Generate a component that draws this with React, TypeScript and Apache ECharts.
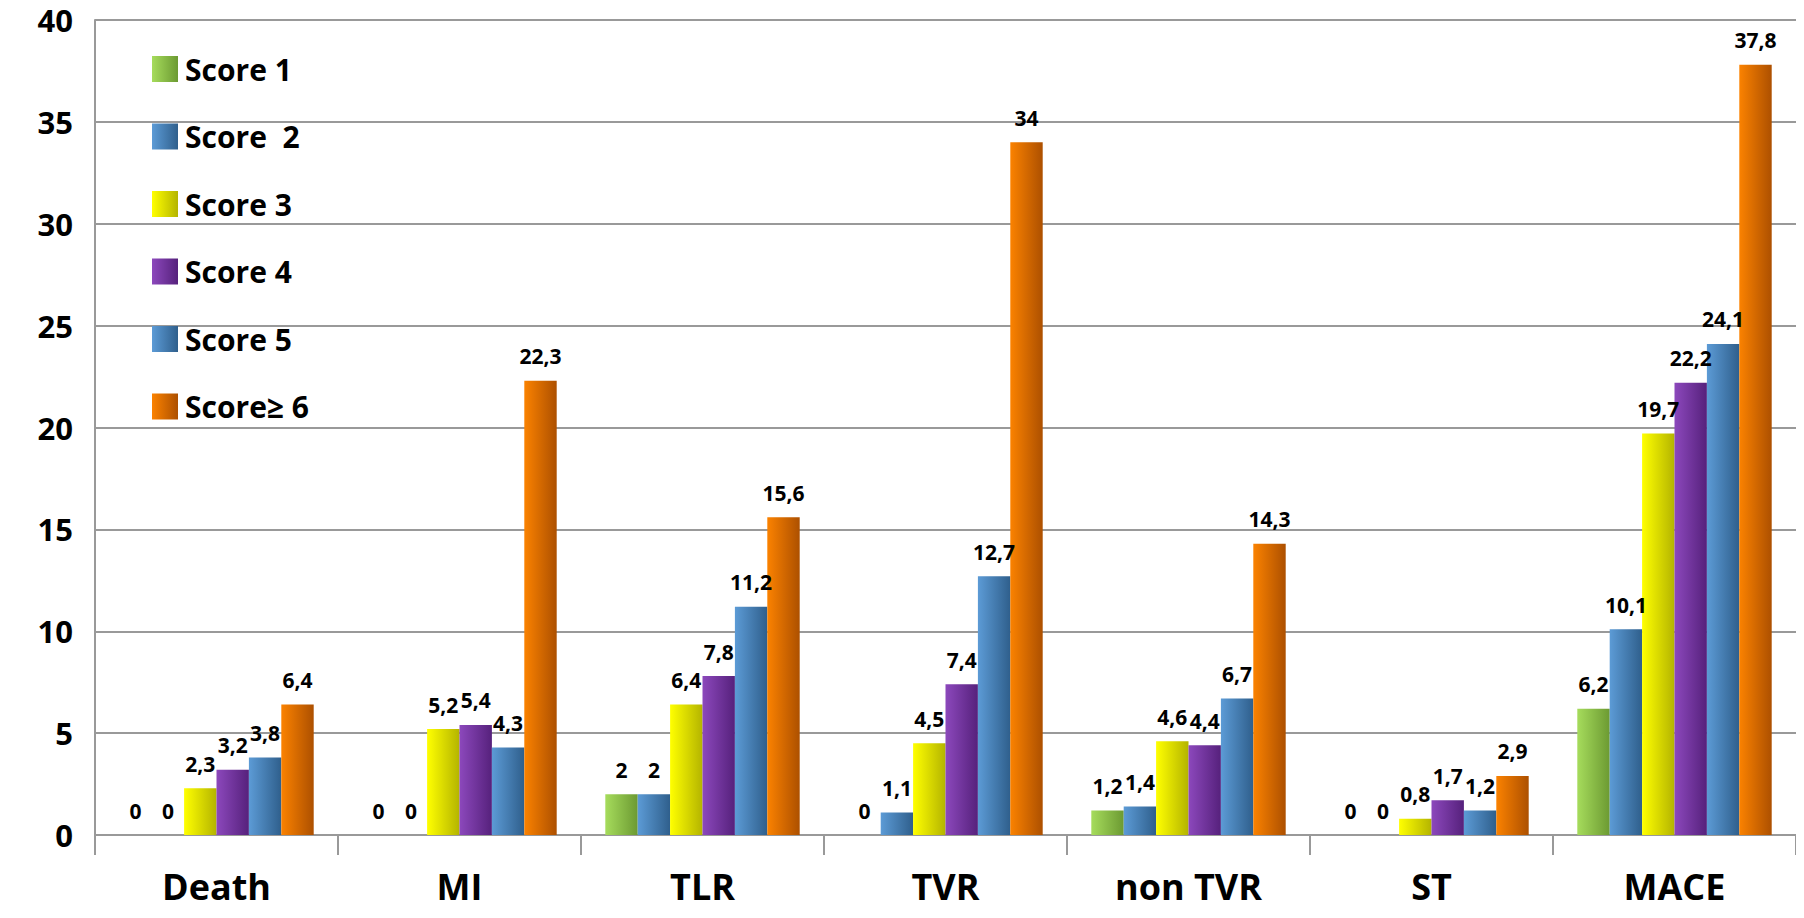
import React, { useEffect, useRef } from "react";
import * as echarts from "echarts";

const categories = ["Death", "MI", "TLR", "TVR", "non TVR", "ST", "MACE"];
const seriesNames = ["Score 1", "Score  2", "Score 3", "Score 4", "Score 5", "Score≥ 6"];
const score1 = [0, 0, 2, 0, 1.2, 0, 6.2];
const score2 = [0, 0, 2, 1.1, 1.4, 0, 10.1];
const score3 = [2.3, 5.2, 6.4, 4.5, 4.6, 0.8, 19.7];
const score4 = [3.2, 5.4, 7.8, 7.4, 4.4, 1.7, 22.2];
const score5 = [3.8, 4.3, 11.2, 12.7, 6.7, 1.2, 24.1];
const score6 = [6.4, 22.3, 15.6, 34, 14.3, 2.9, 37.8];
const allData = [score1, score2, score3, score4, score5, score6];
const colorPairs = [
  ["#a6dc5c", "#6c9a32"],
  ["#5c9bd6", "#2f5f8c"],
  ["#ffff00", "#b4b400"],
  ["#8c48bc", "#56217c"],
  ["#5c9bd6", "#2f5f8c"],
  ["#fb8200", "#ad5000"],
];

const FONT = "'Open Sans', sans-serif";

export default function App() {
  const ref = useRef<HTMLDivElement>(null);
  useEffect(() => {
    const chart = echarts.init(ref.current!, undefined, { renderer: "svg" });
    chart.setOption({
      animation: false,
      backgroundColor: "#fff",
      grid: { left: 95, right: 8, top: 20, bottom: 83 },
      legend: {
        orient: "vertical",
        left: 147,
        top: 49,
        itemWidth: 26,
        itemHeight: 26,
        itemGap: 37.5,
        icon: "rect",
        textStyle: { fontFamily: FONT, fontWeight: "bold", fontSize: 30, color: "#000", padding: [0, 0, 0, 2] },
      },
      xAxis: {
        type: "category",
        data: categories,
        axisLine: { lineStyle: { color: "#999", width: 2 } },
        axisTick: { show: true, length: 20, lineStyle: { color: "#999", width: 2 } },
        axisLabel: { fontFamily: FONT, fontWeight: "bold", fontSize: 36, color: "#000", margin: 33 },
      },
      yAxis: {
        type: "value",
        min: 0,
        max: 40,
        interval: 5,
        axisLine: { show: true, lineStyle: { color: "#999", width: 2 } },
        splitLine: { lineStyle: { color: "#999", width: 2 } },
        axisLabel: { fontFamily: FONT, fontWeight: "bold", fontSize: 31, color: "#000", margin: 22 },
      },
      series: allData.map((d, i) => ({
        name: seriesNames[i],
        type: "bar",
        data: d,
        barGap: "0%",
        barCategoryGap: "20%",
        itemStyle: {
          color: new echarts.graphic.LinearGradient(0, 0, 1, 0, [
            { offset: 0, color: colorPairs[i][0] },
            { offset: 1, color: colorPairs[i][1] },
          ]),
        },
        label: {
          show: true,
          position: "top",
          distance: 14,
          fontFamily: FONT,
          fontWeight: "bold",
          fontSize: 21,
          color: "#000",
          formatter: (p: any) => String(p.value).replace(".", ","),
        },
      })),
    });
    return () => chart.dispose();
  }, []);
  return <div ref={ref} style={{ width: 1804, height: 918, margin: -8 }} />;
}
